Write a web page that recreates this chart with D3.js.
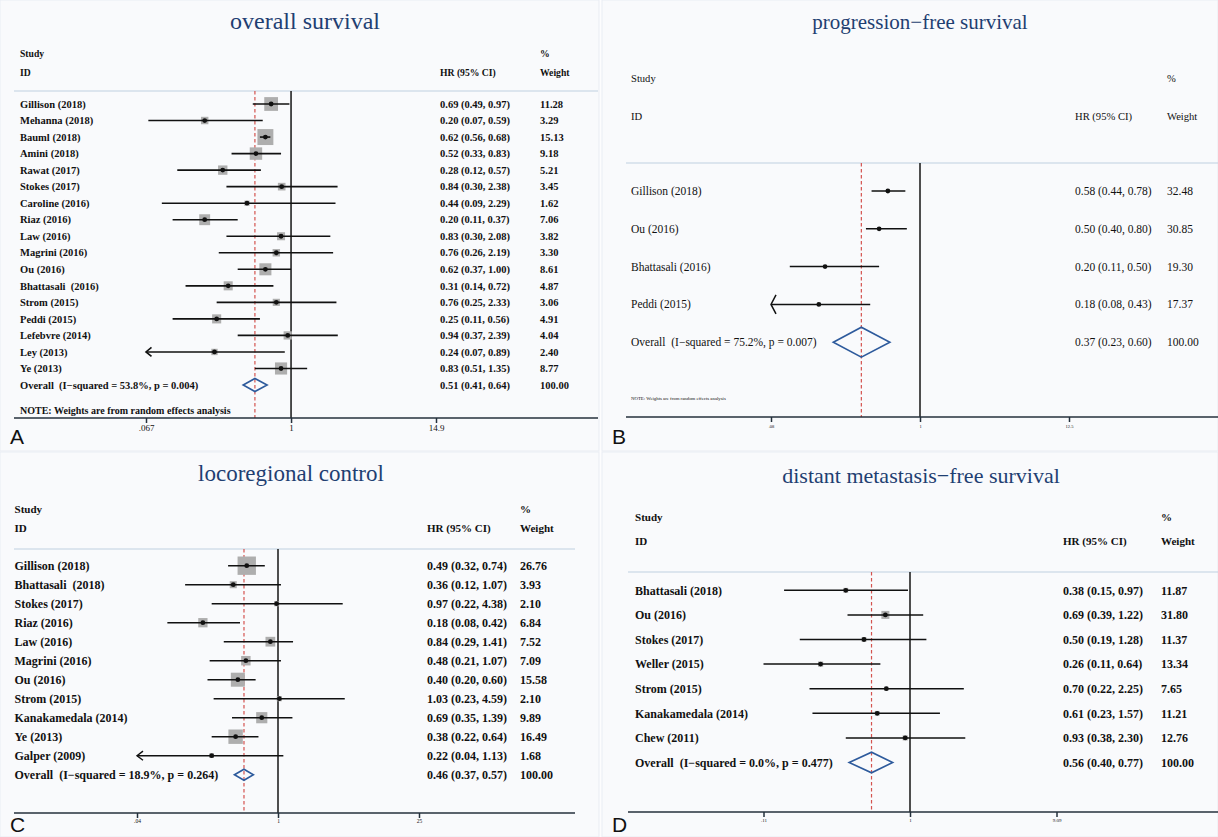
<!DOCTYPE html>
<html><head><meta charset="utf-8">
<script src="https://cdn.jsdelivr.net/npm/d3@7/dist/d3.min.js"></script>
<style>
body{margin:0;background:#fff}
text{white-space:pre}
</style>
</head><body>
<svg id="chart" width="1218" height="837"></svg>
<script>
// ---------------- DATA ----------------
// Panel A: overall survival
const titleA = "overall survival";
const studiesA = ["Gillison (2018)","Mehanna (2018)","Bauml (2018)","Amini (2018)","Rawat (2017)","Stokes (2017)","Caroline (2016)","Riaz (2016)","Law (2016)","Magrini (2016)","Ou (2016)","Bhattasali  (2016)","Strom (2015)","Peddi (2015)","Lefebvre (2014)","Ley (2013)","Ye (2013)"];
const hrA     = [0.69,0.20,0.62,0.52,0.28,0.84,0.44,0.20,0.83,0.76,0.62,0.31,0.76,0.25,0.94,0.24,0.83];
const lowerA  = [0.49,0.07,0.56,0.33,0.12,0.30,0.09,0.11,0.30,0.26,0.37,0.14,0.25,0.11,0.37,0.07,0.51];
const upperA  = [0.97,0.59,0.68,0.83,0.57,2.38,2.29,0.37,2.08,2.19,1.00,0.72,2.33,0.56,2.39,0.89,1.35];
const weightA = [11.28,3.29,15.13,9.18,5.21,3.45,1.62,7.06,3.82,3.30,8.61,4.87,3.06,4.91,4.04,2.40,8.77];
const overallLabelA = "Overall  (I\u2212squared = 53.8%, p = 0.004)";
const overallA = [0.51,0.41,0.64];
const arrowsA = ["Ley (2013)"];
const tickValsA = [0.067,1,14.9];
const tickLabsA = [".067","1","14.9"];

// Panel B: progression-free survival
const titleB = "progression\u2212free survival";
const studiesB = ["Gillison (2018)","Ou (2016)","Bhattasali (2016)","Peddi (2015)"];
const hrB     = [0.58,0.50,0.20,0.18];
const lowerB  = [0.44,0.40,0.11,0.08];
const upperB  = [0.78,0.80,0.50,0.43];
const weightB = [32.48,30.85,19.30,17.37];
const overallLabelB = "Overall  (I\u2212squared = 75.2%, p = 0.007)";
const overallB = [0.37,0.23,0.60];
const arrowsB = ["Peddi (2015)"];
const tickValsB = [0.08,1,12.5];
const tickLabsB = [".08","1","12.5"];

// Panel C: locoregional control
const titleC = "locoregional control";
const studiesC = ["Gillison (2018)","Bhattasali  (2018)","Stokes (2017)","Riaz (2016)","Law (2016)","Magrini (2016)","Ou (2016)","Strom (2015)","Kanakamedala (2014)","Ye (2013)","Galper (2009)"];
const hrC     = [0.49,0.36,0.97,0.18,0.84,0.48,0.40,1.03,0.69,0.38,0.22];
const lowerC  = [0.32,0.12,0.22,0.08,0.29,0.21,0.20,0.23,0.35,0.22,0.04];
const upperC  = [0.74,1.07,4.38,0.42,1.41,1.07,0.60,4.59,1.39,0.64,1.13];
const weightC = [26.76,3.93,2.10,6.84,7.52,7.09,15.58,2.10,9.89,16.49,1.68];
const overallLabelC = "Overall  (I\u2212squared = 18.9%, p = 0.264)";
const overallC = [0.46,0.37,0.57];
const arrowsC = ["Galper (2009)"];
const tickValsC = [0.04,1,25];
const tickLabsC = [".04","1","25"];

// Panel D: distant metastasis-free survival
const titleD = "distant metastasis\u2212free survival";
const studiesD = ["Bhattasali (2018)","Ou (2016)","Stokes (2017)","Weller (2015)","Strom (2015)","Kanakamedala (2014)","Chew (2011)"];
const hrD     = [0.38,0.69,0.50,0.26,0.70,0.61,0.93];
const lowerD  = [0.15,0.39,0.19,0.11,0.22,0.23,0.38];
const upperD  = [0.97,1.22,1.28,0.64,2.25,1.57,2.30];
const weightD = [11.87,31.80,11.37,13.34,7.65,11.21,12.76];
const overallLabelD = "Overall  (I\u2212squared = 0.0%, p = 0.477)";
const overallD = [0.56,0.40,0.77];
const arrowsD = [];
const tickValsD = [0.11,1,9.09];
const tickLabsD = [".11","1","9.09"];

const noteText = "NOTE: Weights are from random effects analysis";

// ---------------- LAYOUT ----------------
const panels = [
 {letter:"A", title:titleA, studies:studiesA, hr:hrA, lo:lowerA, hi:upperA, w:weightA, ovLabel:overallLabelA, ov:overallA, arrows:arrowsA, tv:tickValsA, tl:tickLabsA,
  L:{bx:0,by:0,bw:599,bh:451, tX:305,tY:29,tS:24, sX:20,hrX:440,wX:540, h1:54,h2:73, hl:91, lx0:14,lx1:598, r0:104,rs:16.53, ax:418, rg:[146,436],
     fs:10.5, bold:true, boxK:4.1, dH:6.5, arW:5.5, arH:4.5, noteY:410, noteS:10, tkS:9, tkY:429, lX:10, lY:444, lw:1.6}},
 {letter:"B", title:titleB, studies:studiesB, hr:hrB, lo:lowerB, hi:upperB, w:weightB, ovLabel:overallLabelB, ov:overallB, arrows:arrowsB, tv:tickValsB, tl:tickLabsB,
  L:{bx:602,by:0,bw:616,bh:451, tX:920,tY:29,tS:21, sX:631,hrX:1075,wX:1167, h1:78,h2:116, hl:163, lx0:626,lx1:1218, r0:191,rs:37.8, ax:417, rg:[771,1069],
     fs:11.5, bold:false, boxK:0, dH:15, arW:5, arH:9.5, noteY:398, noteS:4.8, tkS:4.5, tkY:427, lX:612, lY:444, lw:1.5}},
 {letter:"C", title:titleC, studies:studiesC, hr:hrC, lo:lowerC, hi:upperC, w:weightC, ovLabel:overallLabelC, ov:overallC, arrows:arrowsC, tv:tickValsC, tl:tickLabsC,
  L:{bx:0,by:452,bw:599,bh:385, tX:291,tY:481,tS:23, sX:14.5,hrX:427,wX:520, h1:509,h2:528, hl:549, lx0:14,lx1:575, r0:565.7,rs:19, ax:813, rg:[137,419],
     fs:12, bold:true, boxK:3.55, dH:5.5, arW:6, arH:4.6, noteY:null, noteS:0, tkS:5.5, tkY:822, lX:10, lY:832, lw:1.4}},
 {letter:"D", title:titleD, studies:studiesD, hr:hrD, lo:lowerD, hi:upperD, w:weightD, ovLabel:overallLabelD, ov:overallD, arrows:arrowsD, tv:tickValsD, tl:tickLabsD,
  L:{bx:602,by:452,bw:616,bh:385, tX:921,tY:483,tS:22, sX:635,hrX:1063,wX:1161, h1:517,h2:541, hl:572, lx0:628,lx1:1218, r0:590.3,rs:24.6, ax:812, rg:[763.5,1056.5],
     fs:12, bold:true, boxK:1.42, dH:10.3, arW:5, arH:6, noteY:null, noteS:0, tkS:5, tkY:821, lX:612, lY:832, lw:1.5}}
];

const svg = d3.select("#chart");
svg.append("rect").attr("width",1218).attr("height",837).attr("fill","#fdfdfe");
const serif = "'Liberation Serif','Times New Roman',Times,serif";
const titleColor = "#1f3f72";
const ink = "#111";

// backgrounds first
panels.forEach(p => {
  const L = p.L;
  svg.append("rect").attr("x",L.bx).attr("y",L.by).attr("width",L.bw).attr("height",L.bh)
    .attr("fill","#f9fafc").attr("stroke","#e9edf3").attr("stroke-width",1);
});

panels.forEach(p => {
  const L = p.L;
  const g = svg.append("g");
  const x = d3.scaleLog().domain([p.tv[0], p.tv[2]]).range(L.rg);
  const yRow = i => L.r0 + i*L.rs;
  const weight = L.bold ? "bold" : "normal";

  // title
  g.append("text").attr("x",L.tX).attr("y",L.tY).attr("text-anchor","middle")
    .attr("font-family",serif).attr("font-size",L.tS).attr("fill",titleColor).text(p.title);

  // headers
  const hdr = (tx,ty,t) => g.append("text").attr("x",tx).attr("y",ty).attr("dy","0.35em")
    .attr("font-family",serif).attr("font-size",L.fs*0.92).attr("font-weight",weight).attr("fill",ink).text(t);
  hdr(L.sX,L.h1,"Study"); hdr(L.sX,L.h2,"ID");
  hdr(L.hrX,L.h2,"HR (95% CI)"); hdr(L.wX,L.h1,"%"); hdr(L.wX,L.h2,"Weight");

  // header rule
  g.append("line").attr("x1",L.lx0).attr("x2",L.lx1).attr("y1",L.hl).attr("y2",L.hl)
    .attr("stroke","#bfd0df").attr("stroke-width",1.2);

  // reference line at 1
  g.append("line").attr("x1",x(1)).attr("x2",x(1)).attr("y1",L.hl).attr("y2",L.ax)
    .attr("stroke","#151515").attr("stroke-width",1.5);
  // overall dashed line
  g.append("line").attr("x1",x(p.ov[0])).attr("x2",x(p.ov[0])).attr("y1",L.hl).attr("y2",L.ax)
    .attr("stroke","#d4534f").attr("stroke-width",1.2).attr("stroke-dasharray","3.5,2.5");

  // studies
  p.studies.forEach((s,i) => {
    const y = yRow(i);
    const side = L.boxK*Math.sqrt(p.w[i]);
    if (side > 0) {
      g.append("rect").attr("x",x(p.hr[i])-side/2).attr("y",y-side/2).attr("width",side).attr("height",side)
        .attr("fill","#aeaeae");
    }
    const arrow = p.arrows.includes(s);
    const xl = arrow ? x(p.tv[0]) : x(p.lo[i]);
    g.append("line").attr("x1",xl).attr("x2",x(p.hi[i])).attr("y1",y).attr("y2",y)
      .attr("stroke",ink).attr("stroke-width",L.lw);
    if (arrow) {
      g.append("path").attr("d",`M${xl+L.arW},${y-L.arH}L${xl},${y}L${xl+L.arW},${y+L.arH}`)
        .attr("fill","none").attr("stroke",ink).attr("stroke-width",L.lw);
    }
    g.append("circle").attr("cx",x(p.hr[i])).attr("cy",y).attr("r",2.4).attr("fill",ink);

    const txt = (tx,t) => g.append("text").attr("x",tx).attr("y",y).attr("dy","0.35em")
      .attr("font-family",serif).attr("font-size",L.fs).attr("font-weight",weight).attr("fill",ink).text(t);
    txt(L.sX, s);
    txt(L.hrX, `${p.hr[i].toFixed(2)} (${p.lo[i].toFixed(2)}, ${p.hi[i].toFixed(2)})`);
    txt(L.wX, p.w[i].toFixed(2));
  });

  // overall
  const yo = yRow(p.studies.length);
  g.append("path").attr("d",`M${x(p.ov[1])},${yo}L${x(p.ov[0])},${yo-L.dH}L${x(p.ov[2])},${yo}L${x(p.ov[0])},${yo+L.dH}Z`)
    .attr("fill","none").attr("stroke","#2d5a9c").attr("stroke-width",1.6);
  const otxt = (tx,t) => g.append("text").attr("x",tx).attr("y",yo).attr("dy","0.35em")
    .attr("font-family",serif).attr("font-size",L.fs).attr("font-weight",weight).attr("fill",ink).text(t);
  otxt(L.sX, p.ovLabel);
  otxt(L.hrX, `${p.ov[0].toFixed(2)} (${p.ov[1].toFixed(2)}, ${p.ov[2].toFixed(2)})`);
  otxt(L.wX, "100.00");

  // note
  if (L.noteY) {
    g.append("text").attr("x",L.sX).attr("y",L.noteY).attr("dy","0.35em")
      .attr("font-family",serif).attr("font-size",L.noteS).attr("font-weight",weight).attr("fill",ink).text(noteText);
  }

  // axis line
  g.append("line").attr("x1",L.lx0).attr("x2",L.lx1).attr("y1",L.ax).attr("y2",L.ax)
    .attr("stroke","#24303c").attr("stroke-width",1.5);
  const axis = d3.axisBottom(x).tickValues(p.tv).tickFormat((d,i)=>p.tl[i]).tickSize(5).tickPadding(2);
  const ag = g.append("g").attr("transform",`translate(0,${L.ax})`).call(axis);
  ag.select(".domain").remove();
  ag.selectAll(".tick line").attr("stroke","#24303c").attr("stroke-width",1.5);
  ag.selectAll(".tick text").attr("font-family",serif).attr("font-size",L.tkS).attr("fill",ink)
    .attr("y",null).attr("dy",null).attr("transform",`translate(0,${L.tkY-L.ax})`).attr("dominant-baseline","middle");
});

// panel letters on top
panels.forEach(p => {
  svg.append("text").attr("x",p.L.lX).attr("y",p.L.lY).attr("font-family","'Liberation Sans',Arial,sans-serif")
    .attr("font-size",21).attr("fill","#111").text(p.letter);
});
</script>
</body></html>
